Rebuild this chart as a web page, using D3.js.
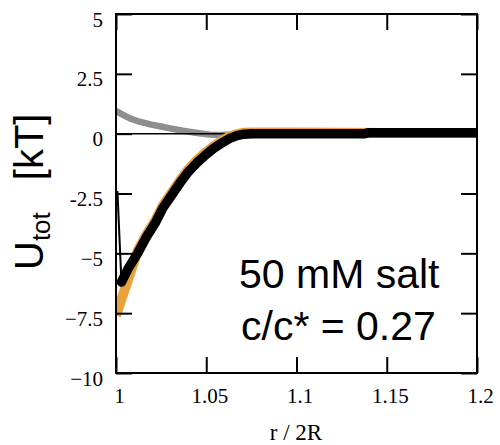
<!DOCTYPE html>
<html>
<head>
<meta charset="utf-8">
<script src="https://cdn.jsdelivr.net/npm/d3@7"></script>
<style>
  body { margin: 0; background: #fff; }
  svg { display: block; }
</style>
</head>
<body>
<div id="chart"></div>
<script>
// tick values and labels
var xTicks = [1, 1.05, 1.1, 1.15, 1.2];
var xTickLabels = ["1", "1.05", "1.1", "1.15", "1.2"];
var yTicks = [5, 2.5, 0, -2.5, -5, -7.5, -10];
var yTickLabels = ["5", "2.5", "0", "-2.5", "\u22125", "\u22127.5", "\u221210"];

// total potential (black markers)
var rBlack = [1.0008, 1.003, 1.007, 1.012, 1.017, 1.022, 1.026, 1.031, 1.036, 1.040, 1.045, 1.049, 1.054, 1.059, 1.063, 1.067, 1.071, 1.075, 1.09, 1.11, 1.138, 1.14, 1.17, 1.2];
var uBlack = [-2.4, -6.2, -5.6, -5.0, -4.3, -3.7, -3.1, -2.55, -2.0, -1.6, -1.2, -0.93, -0.62, -0.37, -0.2, -0.08, -0.02, 0, 0, 0, 0, 0.04, 0.04, 0.04];

// orange curve
var rOrange = [1.0, 1.004, 1.008, 1.012, 1.017, 1.022, 1.026, 1.031, 1.036, 1.040, 1.045, 1.049, 1.054, 1.059, 1.063, 1.067, 1.071, 1.075, 1.1, 1.15, 1.2];
var uOrange = [-7.6, -6.7, -5.8, -4.9, -4.2, -3.6, -3.0, -2.45, -1.9, -1.5, -1.1, -0.83, -0.53, -0.28, -0.12, -0.02, 0.04, 0.05, 0.05, 0.03, 0.03];

// gray curve
var rGray = [1.0, 1.004, 1.008, 1.013, 1.019, 1.025, 1.030, 1.037, 1.045, 1.052, 1.058, 1.065, 1.08, 1.2];
var uGray = [0.95, 0.78, 0.63, 0.5, 0.39, 0.3, 0.22, 0.12, 0.03, -0.04, -0.06, -0.03, 0, 0];

var W = 500, H = 445;
var margin = {left: 116, right: 477, top: 14, bottom: 373};

var svg = d3.select("#chart").append("svg")
    .attr("width", W)
    .attr("height", H);

var x = d3.scaleLinear().domain([1, 1.2]).range([margin.left, margin.right]);
var y = d3.scaleLinear().domain([-10, 5]).range([margin.bottom, margin.top]);

svg.append("clipPath").attr("id", "clip")
  .append("rect")
    .attr("x", margin.left).attr("y", margin.top)
    .attr("width", margin.right - margin.left).attr("height", margin.bottom - margin.top);

var plot = svg.append("g").attr("clip-path", "url(#clip)");

function pts(rs, us) { return rs.map(function(r, i) { return [r, us[i]]; }); }

var line = d3.line()
    .x(function(d) { return x(d[0]); })
    .y(function(d) { return y(d[1]); });

// gray
plot.append("path")
    .attr("d", line(pts(rGray, uGray)))
    .attr("fill", "none")
    .attr("stroke", "#8e8e8e")
    .attr("stroke-width", 6.5)
    .attr("stroke-linejoin", "round");

// thin zero line
plot.append("path")
    .attr("d", line([[1, 0], [1.2, 0]]))
    .attr("fill", "none")
    .attr("stroke", "#000")
    .attr("stroke-width", 1.5);

// orange
plot.append("path")
    .attr("d", line(pts(rOrange, uOrange)))
    .attr("fill", "none")
    .attr("stroke", "#e9a23b")
    .attr("stroke-width", 10)
    .attr("stroke-linejoin", "round");

// black: thin steep part, then thick
var blk = pts(rBlack, uBlack);
plot.append("path")
    .attr("d", line(blk.slice(0, 2)))
    .attr("fill", "none")
    .attr("stroke", "#000")
    .attr("stroke-width", 2);
plot.append("path")
    .attr("d", line(blk.slice(1)))
    .attr("fill", "none")
    .attr("stroke", "#000")
    .attr("stroke-width", 9.5)
    .attr("stroke-linejoin", "round")
    .attr("stroke-linecap", "round");

// axes (inward ticks)
var tickLen = 16;
var gl = svg.append("g")
    .attr("transform", "translate(" + margin.left + ",0)")
    .call(d3.axisLeft(y).tickValues(yTicks).tickSize(-tickLen).tickPadding(13)
      .tickFormat(function(d, i) { return yTickLabels[i]; }));
gl.selectAll("text").attr("dy", null).attr("y", 12);

var gb = svg.append("g")
    .attr("transform", "translate(0," + margin.bottom + ")")
    .call(d3.axisBottom(x).tickValues(xTicks).tickSize(-tickLen).tickPadding(0)
      .tickFormat(function(d, i) { return xTickLabels[i]; }));
gb.selectAll("text").attr("dy", null).attr("y", 30).attr("x", 3);

svg.append("g")
    .attr("transform", "translate(0," + margin.top + ")")
    .call(d3.axisTop(x).tickValues(xTicks).tickSize(-tickLen).tickFormat(""));
svg.append("g")
    .attr("transform", "translate(" + margin.right + ",0)")
    .call(d3.axisRight(y).tickValues(yTicks).tickSize(-tickLen).tickFormat(""));

svg.selectAll(".domain").remove();
svg.selectAll(".tick line").attr("stroke", "#000").attr("stroke-width", 2);
svg.selectAll(".tick text")
    .attr("fill", "#000")
    .style("font-family", "'Liberation Serif', 'Times New Roman', serif")
    .style("font-size", "21px");

// frame
svg.append("rect")
    .attr("x", margin.left).attr("y", margin.top)
    .attr("width", margin.right - margin.left).attr("height", margin.bottom - margin.top)
    .attr("fill", "none")
    .attr("stroke", "#000")
    .attr("stroke-width", 2);

// x axis title
svg.append("text")
    .attr("x", 296)
    .attr("y", 440)
    .attr("text-anchor", "middle")
    .style("font-family", "'Liberation Serif', 'Times New Roman', serif")
    .style("font-size", "23px")
    .text("r / 2R");

// y axis title
var yt = svg.append("text")
    .attr("transform", "translate(43,270) rotate(-90)")
    .style("font-family", "'Liberation Sans', Arial, sans-serif")
    .style("font-size", "40px");
yt.append("tspan").text("U");
yt.append("tspan").attr("dy", 7).style("font-size", "26px").text("tot");
yt.append("tspan").attr("dy", -7).attr("dx", 32).text("[kT]");

// annotation
var note = svg.append("g")
    .style("font-family", "'Liberation Sans', Arial, sans-serif")
    .style("font-size", "41px");
note.append("text").attr("x", 239).attr("y", 288).text("50 mM salt");
note.append("text").attr("x", 241).attr("y", 340).text("c/c* = 0.27");
</script>
</body>
</html>
